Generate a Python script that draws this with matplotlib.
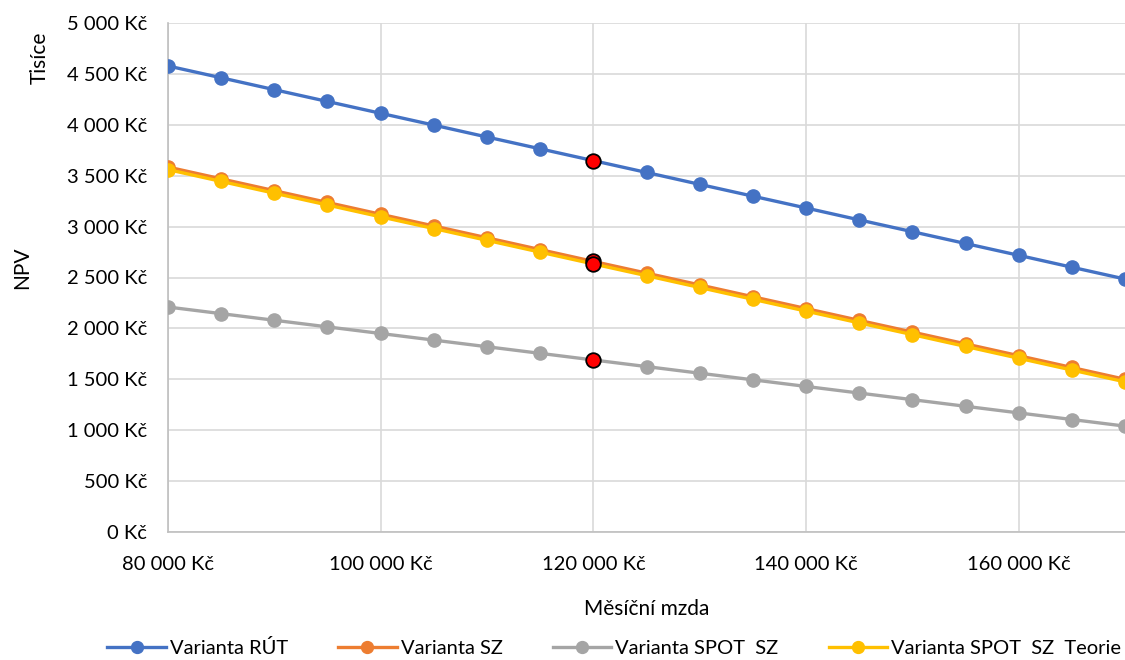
import numpy as np
import matplotlib.pyplot as plt
from matplotlib.ticker import FuncFormatter, MultipleLocator

plt.rcParams['font.family'] = ['Lato', 'DejaVu Sans']

mzda = [80000, 85000, 90000, 95000, 100000, 105000, 110000, 115000, 120000,
        125000, 130000, 135000, 140000, 145000, 150000, 155000, 160000,
        165000, 170000]

rut = [4578, 4462, 4345, 4229, 4113, 3997, 3880, 3764, 3648, 3532, 3415,
       3299, 3183, 3066, 2950, 2834, 2718, 2601, 2485]
sz = [3585, 3469, 3353, 3237, 3121, 3006, 2890, 2774, 2658, 2543, 2427,
      2311, 2195, 2079, 1964, 1848, 1732, 1616, 1500]
spot_sz = [2210, 2145, 2080, 2015, 1950, 1885, 1820, 1755, 1690, 1625, 1560,
           1495, 1430, 1365, 1300, 1235, 1170, 1105, 1040]
spot_sz_teorie = [3560, 3444, 3328, 3212, 3096, 2981, 2865, 2749, 2633, 2518,
                  2402, 2286, 2170, 2054, 1939, 1823, 1707, 1591, 1475]

# zvýrazněné body při mzdě 120 000 Kč
bod_x = 120000
body_y = [3648, 2658, 1690, 2633]

nazvy = ["Varianta RÚT", "Varianta SZ", "Varianta SPOT  SZ", "Varianta SPOT  SZ  Teorie"]
barvy = ["#4472C4", "#ED7D31", "#A5A5A5", "#FFC000"]
serie = [rut, sz, spot_sz, spot_sz_teorie]

fig = plt.figure(figsize=(11.25, 6.6), dpi=100)
ax = fig.add_axes([168 / 1125, 1 - 532 / 660, 1 - 168 / 1125, (532 - 23) / 660])

for y, c, n in zip(serie, barvy, nazvy):
    ax.plot(mzda, y, color=c, lw=2.4, marker='o', ms=9.5, label=n, zorder=3)

ax.scatter([bod_x] * len(body_y), body_y, s=110, color='red',
           edgecolors='black', linewidths=1.3, zorder=5)

ax.set_xlim(80000, 170000)
ax.set_ylim(0, 5000)
ax.xaxis.set_major_locator(MultipleLocator(20000))
ax.yaxis.set_major_locator(MultipleLocator(500))

kc = FuncFormatter(lambda v, p: f"{v:,.0f}".replace(",", " ") + " Kč")
ax.xaxis.set_major_formatter(kc)
ax.yaxis.set_major_formatter(kc)

ax.grid(True, color='#D9D9D9', lw=1.2, zorder=0)
ax.set_axisbelow(True)
for s in ['top', 'right']:
    ax.spines[s].set_visible(False)
for s in ['left', 'bottom']:
    ax.spines[s].set_color('#BFBFBF')
    ax.spines[s].set_linewidth(1.2)
ax.tick_params(length=0, labelsize=14.5, colors='black')
ax.tick_params(axis='y', pad=15)
ax.tick_params(axis='x', pad=17)

ax.set_xlabel("Měsíční mzda", fontsize=15, labelpad=19)
fig.text(0.0196, 0.594, "NPV", rotation=90, fontsize=15, ha='center', va='center')
fig.text(0.0356, 0.912, "Tisíce", rotation=90, fontsize=15, ha='center', va='center')

fig.legend(loc='center', bbox_to_anchor=(0.546, 1 - 648 / 660), ncol=4, frameon=False,
           fontsize=14.5, handlelength=2.9, columnspacing=2.5, handletextpad=0.2,
           markerscale=0.9)

fig.savefig("out.png", dpi=100)
